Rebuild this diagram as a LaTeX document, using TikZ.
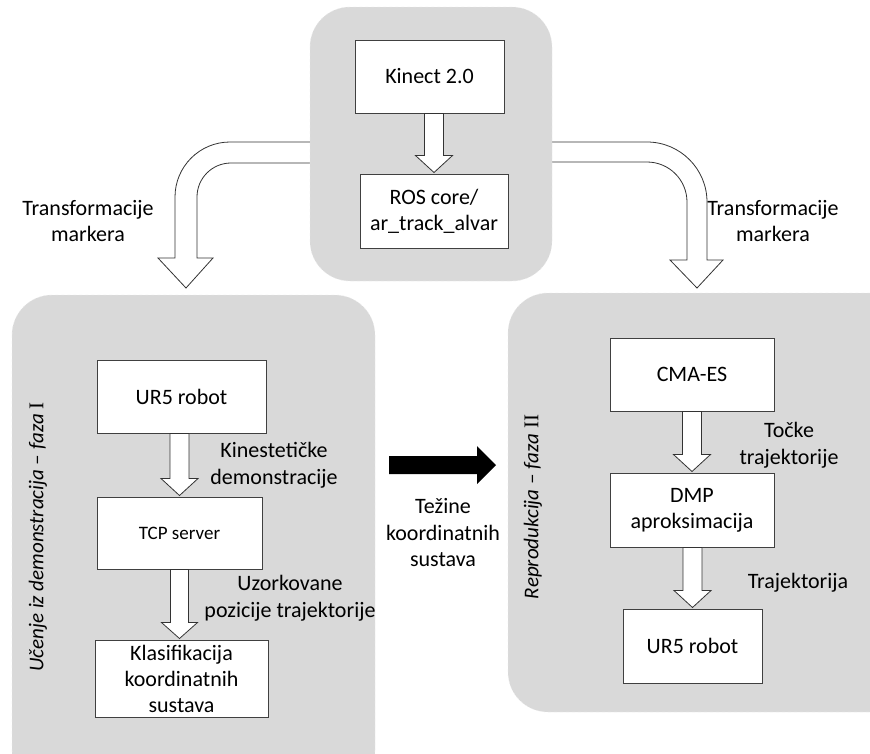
\documentclass[tikz,border=0pt]{standalone}
\usepackage{fontspec}
\setmainfont{Carlito}
\newfontfamily\romanfont{Liberation Serif}
\usetikzlibrary{calc}
\tikzset{
  panel/.style={fill=black!15, draw=black!8, dashed, rounded corners=40pt},
  blockbox/.style={draw=black!75, line width=1pt, fill=white, inner sep=0pt, align=center, font=\fontsize{22}{26}\selectfont},
  barrow/.style={draw=black!80, line width=0.8pt, fill=white, line join=miter},
  lbl/.style={align=center, font=\fontsize{22}{26.5}\selectfont, inner sep=0pt},
}
\newcommand\vblock[2]{%
  \draw[barrow] let \p1=(#1.south), \p2=(#2.north) in
    ({\x2-9.5pt},\y1) -- ({\x2-9.5pt},{\y2+18pt}) -- ({\x2-18.5pt},{\y2+18pt}) --
    (\x2,{\y2+1pt}) -- ({\x2+18.5pt},{\y2+18pt}) -- ({\x2+9.5pt},{\y2+18pt}) --
    ({\x2+9.5pt},\y1) -- cycle;}
\begin{document}
\begin{tikzpicture}[x=1pt,y=-1pt]
\useasboundingbox (0,0) rectangle (870,753);
\clip (0,0) rectangle (870,753);
% bent arrows (behind the top panel)
\draw[barrow] (340,142) -- (230,142) .. controls (199.6,142) and (175,166.6) .. (175,197)
  -- (175,258) -- (158,258) -- (186,288) -- (213,258) -- (197,258) -- (197,197)
  .. controls (197,178.2) and (212.2,163) .. (231,163) -- (340,163) -- cycle;
\draw[barrow] (520,142) -- (647,142) .. controls (680.1,142) and (707,168.9) .. (707,202)
  -- (707,260) -- (723,260) -- (697,288) -- (670,260) -- (687,260) -- (687,202)
  .. controls (687,179.9) and (669.1,162) .. (647,162) -- (520,162) -- cycle;
% panels
\path[panel] (310,7) rectangle (552,281);
\path[panel] (12,295) rectangle (375,790);
\path[panel] (508,293) rectangle (910,712);
% top panel
\node[blockbox, minimum width=149pt, minimum height=73pt] (kin) at (429.5,76.5) {Kinect 2.0};
\node[blockbox, minimum width=148pt, minimum height=74pt] (ros) at (434,211) {ROS core/\\ar\_track\_alvar};
\vblock{kin}{ros}
% left panel
\node[blockbox, minimum width=169pt, minimum height=73pt] (ur5a) at (181.5,396.5) {UR5 robot};
\node[blockbox, minimum width=165pt, minimum height=72pt, font=\fontsize{19}{22}\selectfont] (tcp) at (179.5,533) {TCP server};
\node[blockbox, minimum width=173pt, minimum height=77pt, font=\fontsize{22}{26}\selectfont] (klas) at (181.5,678.5) {Klasifikacija\\koordinatnih\\sustava};
\vblock{ur5a}{tcp}
\draw[barrow] let \p1=(tcp.south), \p2=(klas.north) in
    (170.5,\y1) -- (170.5,{\y2+17pt}) -- (161.5,{\y2+17pt}) --
    (179.5,{\y2+1pt}) -- (197.5,{\y2+17pt}) -- (188.5,{\y2+17pt}) --
    (188.5,\y1) -- cycle;
\node[lbl] (l1) at (274,465) {Kinestetičke\\demonstracije};
\node[lbl] (l2) at (290,598) {Uzorkovane\\pozicije trajektorije};
\node[lbl, rotate=90, font=\fontsize{21}{25}\selectfont] (ph1) at (38,537) {\itshape Učenje iz demonstracija – faza {\upshape\romanfont I}};
% right panel
\node[blockbox, minimum width=164pt, minimum height=73pt] (cma) at (692,374.5) {CMA-ES};
\node[blockbox, minimum width=164pt, minimum height=74pt] (dmp) at (692,510) {DMP\\aproksimacija};
\node[blockbox, minimum width=139pt, minimum height=74pt] (ur5b) at (692.5,646) {UR5 robot};
\vblock{cma}{dmp}
\vblock{dmp}{ur5b}
\node[lbl] (l3) at (789,445) {Točke\\trajektorije};
\node[lbl] (l4) at (798,583) {Trajektorija};
\node[lbl, rotate=90, font=\fontsize{21}{25}\selectfont] (ph2) at (533,507) {\itshape Reprodukcija – faza {\upshape\romanfont II}};
% black arrow
\coordinate (ba) at (389,465);
\fill[black] (ba) -- ++(0,-9) -- ++(88,0) -- ++(0,-10) -- (496,465) -- (477,484) -- (477,474) -- (389,474) -- cycle;
\node[lbl] (l5) at (443,533) {Težine\\koordinatnih\\sustava};
% side labels
\node[lbl] (l6) at (88,221) {Transformacije\\markera};
\node[lbl] (l7) at (773,221) {Transformacije\\markera};
\end{tikzpicture}
\end{document}
